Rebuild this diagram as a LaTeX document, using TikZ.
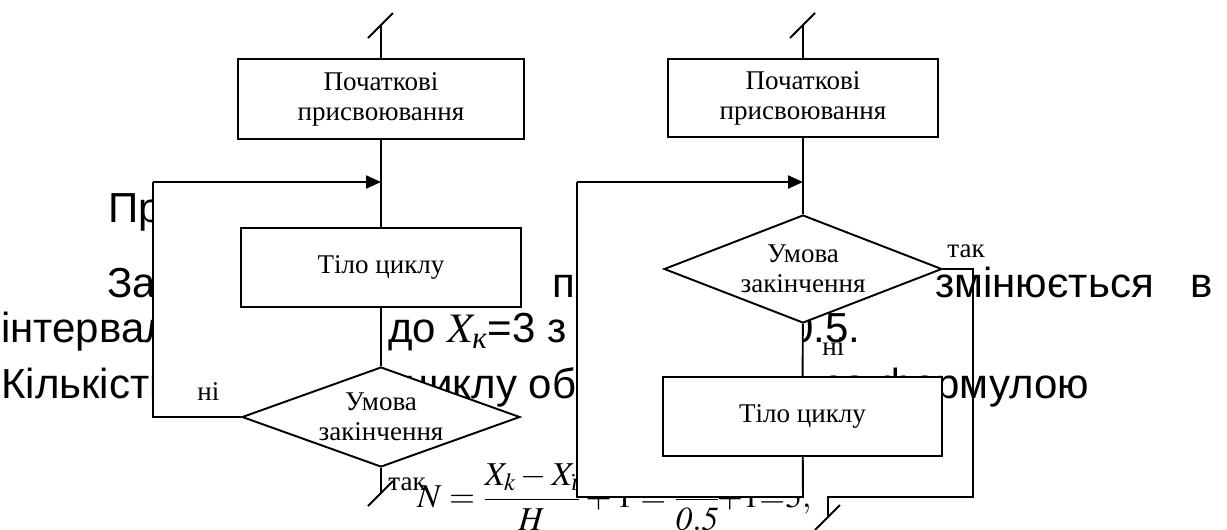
\documentclass[tikz,border=0pt]{standalone}
\usepackage{amsmath}
\usepackage{mathptmx}
\usepackage[no-math]{fontspec}
\setmainfont{Liberation Serif}
\setsansfont{Liberation Sans}
\usepackage{tikz}
\usetikzlibrary{shapes.geometric, arrows.meta}
\tikzstyle{flow}=[line width=1.1pt, color=black]
\tikzstyle{arrow}=[-{Triangle[length=8.5pt, width=7.4pt]}, line width=1.1pt]
\tikzstyle{block}=[draw, fill=white, line width=1.1pt, align=center, inner sep=0pt,
                   font=\fontsize{15.4}{17.1}\selectfont]
\tikzstyle{cond}=[diamond, draw, fill=white, line width=1.1pt, align=center, inner sep=0pt,
                  shape aspect=2.78, minimum width=5.56cm, font=\fontsize{15.4}{17.1}\selectfont]
\tikzstyle{lbl}=[anchor=base west, inner sep=0pt, font=\fontsize{15.4}{17.1}\selectfont]
\tikzstyle{bgtext}=[anchor=base west, inner sep=0pt, font=\sffamily\fontsize{23.9}{28}\selectfont]
\newcommand{\cutmark}[1]{\draw[flow] (#1) ++(-13,12) -- ++(25,-25);}

\begin{document}
\begin{tikzpicture}[x=0.02cm, y=-0.02cm]
  \fill[white] (0,0) rectangle (1227,529);
  \useasboundingbox (0,0) rectangle (1227,529);

  % Page text behind the charts
  \node[bgtext] (t1)  at (108,222) {Приклад};
  \node[bgtext] (t2a) at (107,297) {Задано};
  \node[bgtext] (t2b) at (552,297) {параметр};
  \node[bgtext] (t2c) at (935,297) {змінюється};
  \node[bgtext] (t2d) at (1190,297) {в};
  \node[bgtext] (t3a) at (1,342) {інтервалі};
  \node[bgtext] (t3b) at (388,342) {до $X_{\text{\rmfamily\itshape к}}$=3 з кроком};
  \node[bgtext] (t3c) at (790,342) {0.5.};
  \node[bgtext] (t4a) at (1,398) {Кількість};
  \node[bgtext] (t4b) at (405,398) {циклу обчислюється};
  \node[bgtext] (t4c) at (824,398) {за формулою};
  \node[anchor=west, inner sep=0pt, font=\fontsize{19}{22}\selectfont] (formula) at (417,497)
    {$N=\dfrac{X_k-X_{\text{\itshape ї}}}{H}+1=\dfrac{2}{\mathit{0.5}}\!{+}1{=}5,$};

  % Loop areas
  \fill[white] (153,182) rectangle (381,417);
  \fill[white] (577,182) rectangle (803,497);

  % Loop with postcondition
  \node[block, minimum width=5.72cm, minimum height=1.6cm] (init1) at (381,99) {Початкові\\присвоювання};
  \node[block, minimum width=5.6cm, minimum height=1.58cm] (body1) at (381,267.5) {Тіло циклу};
  \node[cond, minimum height=2cm] (cond1) at (381,417) {Умова\\закінчення};
  \coordinate (in1) at (381,26);
  \coordinate (join1) at (381,182);
  \coordinate (back1) at (153,182);
  \coordinate (out1) at (381,494);

  \draw[flow] (in1) -- (init1);
  \draw[flow] (init1) -- (body1);
  \draw[flow] (body1) -- (cond1);
  \draw[flow] (cond1) -- (out1);
  \draw[flow] (cond1.west) -| (back1);
  \draw[arrow] (back1) -- (join1);
  \cutmark{in1}
  \cutmark{out1}
  \node[lbl] (no1) at (197,400) {ні};
  \node[lbl] (yes1) at (388,490) {так};

  % Loop with precondition
  \node[block, minimum width=5.4cm, minimum height=1.56cm] (init2) at (803,98) {Початкові\\присвоювання};
  \node[cond, minimum height=2.16cm] (cond2) at (803,269) {Умова\\закінчення};
  \node[block, minimum width=5.58cm, minimum height=1.58cm] (body2) at (802.5,416.5) {Тіло циклу};
  \coordinate (in2) at (803,26);
  \coordinate (join2) at (803,182);
  \coordinate (back2) at (577,182);
  \coordinate (low2) at (803,497);
  \coordinate (exit2) at (973,497);
  \coordinate (drop2) at (828,497);
  \coordinate (out2) at (828,518);

  \draw[flow] (in2) -- (init2);
  \draw[flow] (init2) -- (cond2);
  \draw[flow] (cond2) -- (body2);
  \draw[flow] (body2) -- (low2) -| (back2);
  \draw[arrow] (back2) -- (join2);
  \draw[flow] (cond2.east) -| (exit2) -- (drop2) -- (out2);
  \cutmark{in2}
  \cutmark{out2}
  \node[lbl] (yes2) at (947,257) {так};
  \node[lbl] (no2) at (822,355) {ні};
\end{tikzpicture}
\end{document}
